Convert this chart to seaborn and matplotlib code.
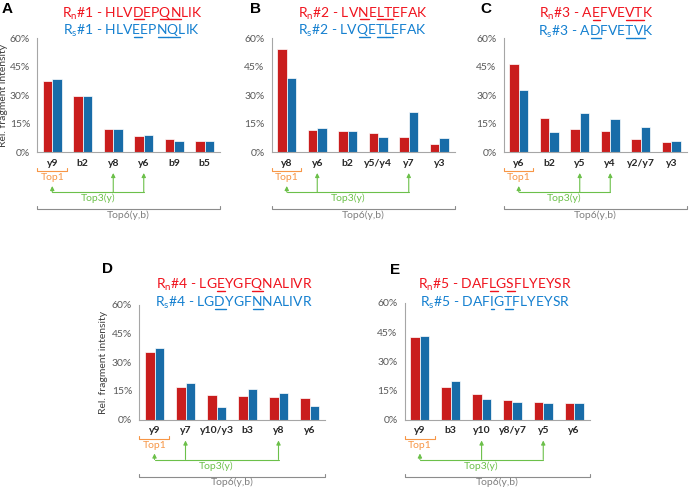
import numpy as np
import pandas as pd
import matplotlib
matplotlib.use('Agg')
import matplotlib.pyplot as plt
from matplotlib.lines import Line2D
import seaborn as sns

# values (% rel. fragment intensity)
frags_a = ['y9', 'b2', 'y8', 'y6', 'b9', 'b5']
rn_a = [37.3, 29.4, 12.4, 8.5, 6.9, 6.0]
rs_a = [38.4, 29.4, 12.4, 9.2, 5.8, 5.8]

frags_b = ['y8', 'y6', 'b2', 'y5/y4', 'y7', 'y3']
rn_b = [54.5, 11.7, 11.0, 9.9, 8.1, 4.1]
rs_b = [39.1, 12.7, 11.3, 8.1, 20.9, 7.3]

frags_c = ['y6', 'b2', 'y5', 'y4', 'y2/y7', 'y3']
rn_c = [46.7, 18.1, 12.4, 11.0, 6.9, 5.3]
rs_c = [32.7, 10.6, 20.5, 17.7, 13.1, 5.8]

frags_d = ['y9', 'y7', 'y10/y3', 'b3', 'y8', 'y6']
rn_d = [35.4, 16.8, 12.6, 12.2, 11.9, 11.2]
rs_d = [37.5, 18.8, 6.3, 16.1, 13.8, 7.0]

frags_e = ['y9', 'b3', 'y10', 'y8/y7', 'y5', 'y6']
rn_e = [42.7, 16.5, 12.9, 9.8, 9.1, 8.4]
rs_e = [43.2, 19.7, 10.8, 9.1, 8.4, 8.4]

# peptide sequences (native / substituted)
pep_rn = ['HLVDEPQNLIK', 'LVNELTEFAK', 'AEFVEVTK', 'LGEYGFQNALIVR', 'DAFLGSFLYEYSR']
pep_rs = ['HLVEEPNQLIK', 'LVQETLEFAK', 'ADFVETVK', 'LGDYGFNNALIVR', 'DAFIGTFLYEYSR']

# which fragments make up the Top3(y)
top3 = [[0, 2, 3], [0, 1, 4], [0, 2, 3], [0, 1, 4], [0, 2, 4]]

RED = '#E60000'
BLUE = '#0070C0'
RED_T = '#F0141E'
BLUE_T = '#1580D0'
ORANGE = '#F79646'
GREEN = '#6CC04A'
GREY = '#8C8C8C'

sns.set_style('white')
plt.rcParams['font.family'] = ['Lato', 'DejaVu Sans']
plt.rcParams['mathtext.default'] = 'regular'

W, H = 690, 490
fig = plt.figure(figsize=(6.9, 4.9), dpi=100)

# panel layout in pixels: left, top, bottom, width, title x, title baselines, letter pos, ylabel x
panels = [
    ('A', frags_a, rn_a, rs_a, 37, 38.5, 152, 183, 132, (17.5, 35), (2, 2), 8),
    ('B', frags_b, rn_b, rs_b, 271.5, 38.5, 152, 183, 363, (17.5, 35), (250, 2), None),
    ('C', frags_c, rn_c, rs_c, 503.5, 38.5, 152, 183, 596, (18, 36), (480, 2), None),
    ('D', frags_d, rn_d, rs_d, 139, 304.5, 419.5, 186, 234, (289, 307), (102, 262), 108),
    ('E', frags_e, rn_e, rs_e, 404.5, 303, 419.5, 185, 495, (289, 307), (390, 263), None),
]

TFS = 10


def seq_title(xc, ybase, tag, seq, marks, color):
    s = tag + seq
    t = fig.text(xc / W, 1 - ybase / H, s, ha='center', va='baseline',
                 color=color, fontsize=TFS)
    r = fig.canvas.get_renderer()
    x0 = t.get_window_extent(r).x0

    def width(txt):
        tmp = fig.text(0, 0, txt, fontsize=TFS)
        w = tmp.get_window_extent(r).width
        tmp.remove()
        return w

    for i in marks:
        k = len(tag) + i
        a = width(s[:k])
        b = width(s[:k + 1])
        fig.add_artist(Line2D([(x0 + a) / W, (x0 + b) / W],
                              [1 - (ybase + 2) / H] * 2,
                              color=color, lw=1.0, transform=fig.transFigure))


for n, (letter, frags, rn, rs, l, t, b, w, xc, ybs, lpos, ylab) in enumerate(panels):
    hpx = b - t
    ax = fig.add_axes([l / W, (H - b) / H, w / W, hpx / H])
    df = pd.DataFrame({'frag': frags * 2, 'val': rn + rs,
                       'pep': ['Rn'] * len(frags) + ['Rs'] * len(frags)})
    sns.barplot(data=df, x='frag', y='val', hue='pep', palette=[RED, BLUE],
                width=0.62, edgecolor='white', linewidth=0.5, legend=False, ax=ax)
    ax.set_xlim(-0.5, 5.5)
    ax.set_ylim(0, 60)
    ax.set_yticks([0, 15, 30, 45, 60])
    ax.set_yticklabels([f'{v}%' for v in [0, 15, 30, 45, 60]])
    ax.set_xticks(np.arange(-0.5, 6, 1), minor=True)
    ax.tick_params(axis='x', which='major', length=0, pad=5, labelsize=7.5,
                   labelcolor='#262626')
    ax.tick_params(axis='x', which='minor', length=3, color='#A6A6A6', width=0.8)
    ax.tick_params(axis='y', length=3, color='#A6A6A6', width=0.8, pad=2,
                   labelsize=7.5, labelcolor='#595959')
    for lab in ax.get_xticklabels():
        lab.set_fontweight('bold')
    ax.set_xlabel('')
    if ylab is not None:
        ax.set_ylabel('Rel. fragment intensity', fontsize=7.5, color='#404040')
        ax.yaxis.set_label_coords((ylab - l) / w, 0.5)
    else:
        ax.set_ylabel('')
    sns.despine(ax=ax)
    for sp in ['left', 'bottom']:
        ax.spines[sp].set_color('#A6A6A6')
        ax.spines[sp].set_linewidth(0.8)

    tr = ax.get_xaxis_transform()

    def fy(px):
        return -px / hpx

    # Top1 bracket
    ax.plot([-0.5, -0.5, 0.48, 0.48], [fy(16.5), fy(19.5), fy(19.5), fy(16.5)],
            color=ORANGE, lw=0.8, transform=tr, clip_on=False)
    ax.text(0, fy(25.5), 'Top1', color=ORANGE, fontsize=7.5, ha='center',
            va='center', transform=tr)

    # Top3(y) arrows
    i0, i1, i2 = top3[n]
    ax.plot([i0, i2], [fy(40), fy(40)], color=GREEN, lw=0.8, transform=tr, clip_on=False)
    for i, tip in [(i0, 34), (i1, 21), (i2, 21)]:
        ax.annotate('', xy=(i, fy(tip)), xytext=(i, fy(40)), xycoords=tr, textcoords=tr,
                    annotation_clip=False,
                    arrowprops=dict(arrowstyle='-|>', color=GREEN, lw=0.8,
                                    mutation_scale=6, shrinkA=0, shrinkB=0))
    ax.text((i0 + i2) / 2, fy(46.7), 'Top3(y)', color=GREEN, fontsize=7.5,
            ha='center', va='center', transform=tr)

    # Top6(y,b) bracket
    ax.plot([-0.5, -0.5, 5.5, 5.5], [fy(54), fy(57.5), fy(57.5), fy(54)],
            color=GREY, lw=0.8, transform=tr, clip_on=False)
    ax.text(2.5, fy(63), 'Top6(y,b)', color='#7F7F7F', fontsize=7.5,
            ha='center', va='center', transform=tr)

    # panel letter
    fig.text(lpos[0] / W, 1 - lpos[1] / H, letter, fontsize=11, fontweight='bold',
             family='Liberation Sans', ha='left', va='top', color='black')

    # titles with underlined substitutions
    marks = [k for k, (p, q) in enumerate(zip(pep_rn[n], pep_rs[n])) if p != q]
    seq_title(xc, ybs[0], r'R$_\mathregular{n}$#' + str(n + 1) + ' - ', pep_rn[n], marks, RED_T)
    seq_title(xc, ybs[1], r'R$_\mathregular{s}$#' + str(n + 1) + ' - ', pep_rs[n], marks, BLUE_T)

fig.savefig('out.png', dpi=100)
